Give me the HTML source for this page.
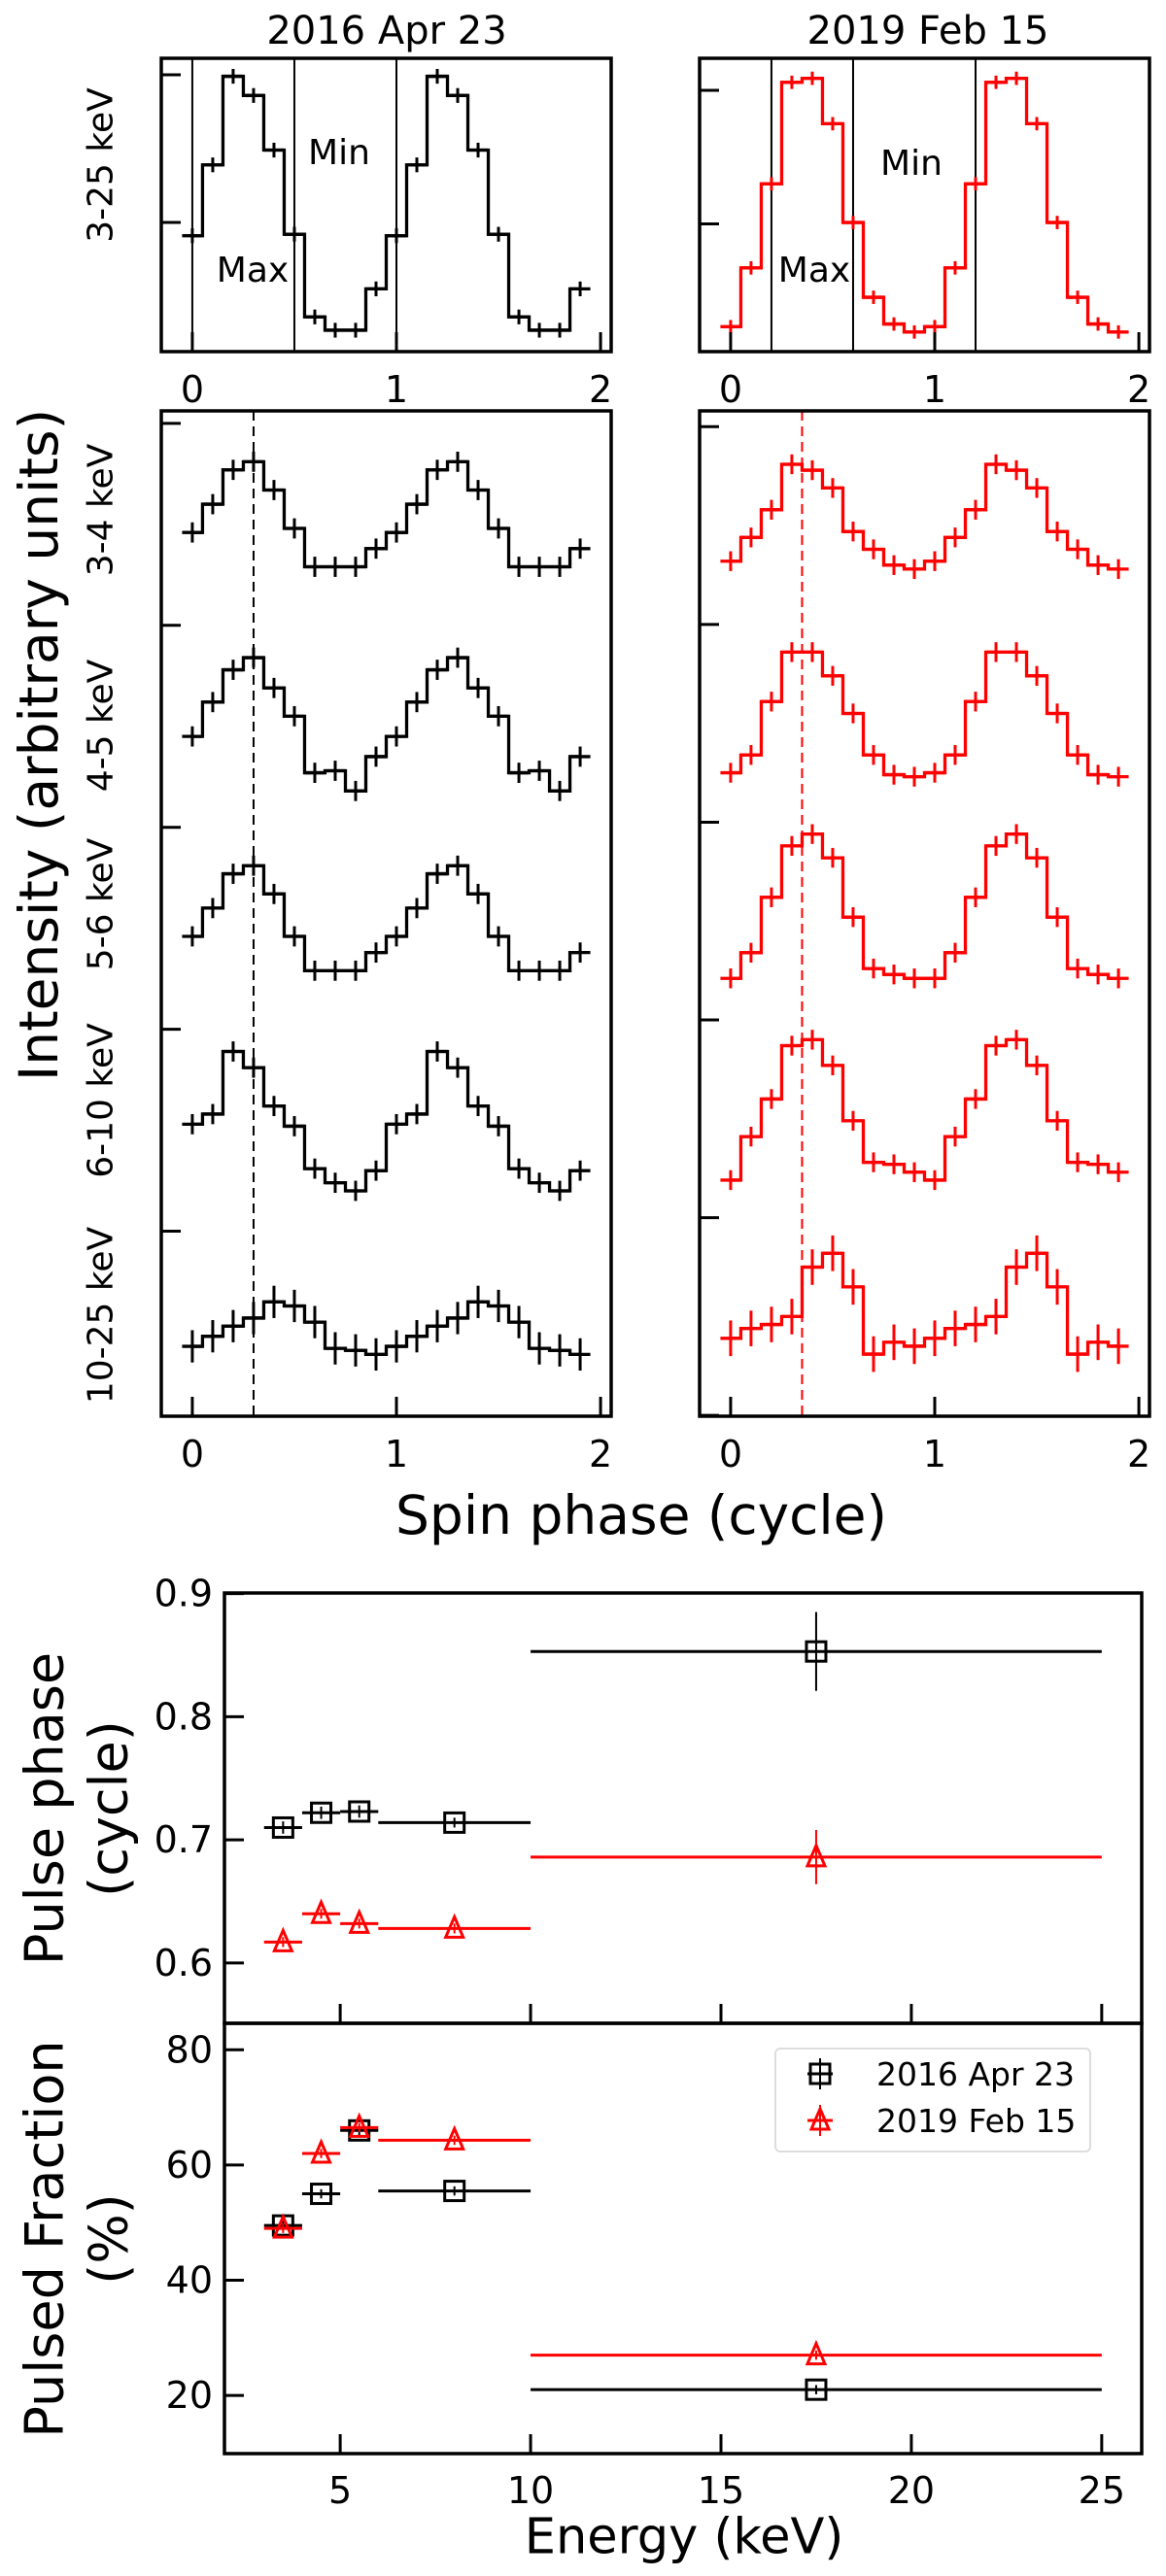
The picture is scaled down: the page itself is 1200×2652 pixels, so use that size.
<!DOCTYPE html>
<html><head><meta charset="utf-8"><style>
html,body{margin:0;padding:0;background:#fff}
svg{display:block;font-family:"DejaVu Sans","Liberation Sans",sans-serif}
</style></head><body>
<svg id="fig" xmlns="http://www.w3.org/2000/svg" width="1200" height="2652" viewBox="0 0 1200 2652">
<rect width="1200" height="2652" fill="#fff"/>
<g id="layer"></g>
</svg>
<script>
// ---------- data ----------
const phases = [0,0.1,0.2,0.3,0.4,0.5,0.6,0.7,0.8,0.9,1.0,1.1,1.2,1.3,1.4,1.5,1.6,1.7,1.8,1.9];
const bandNames = ["3-4 keV","4-5 keV","5-6 keV","6-10 keV","10-25 keV"];
const bandOffsets = [4,3,2,1,0];
const topL = [0.91,1.39,1.99,1.86,1.49,0.92,0.36,0.27,0.27,0.55,0.91,1.39,1.99,1.86,1.49,0.92,0.36,0.27,0.27,0.55];
const topR = [0.23,0.67,1.30,2.06,2.09,1.75,1.01,0.45,0.25,0.19,0.23,0.67,1.30,2.06,2.09,1.75,1.01,0.45,0.25,0.19];
const L34 = [0.46,0.60,0.77,0.81,0.67,0.48,0.29,0.29,0.29,0.38,0.46,0.60,0.77,0.81,0.67,0.48,0.29,0.29,0.29,0.38];
const L45 = [0.45,0.62,0.78,0.84,0.69,0.55,0.27,0.28,0.18,0.35,0.45,0.62,0.78,0.84,0.69,0.55,0.27,0.28,0.18,0.35];
const L56 = [0.46,0.60,0.77,0.81,0.67,0.46,0.29,0.29,0.29,0.38,0.46,0.60,0.77,0.81,0.67,0.46,0.29,0.29,0.29,0.38];
const L610 = [0.53,0.58,0.89,0.81,0.62,0.52,0.31,0.24,0.20,0.30,0.53,0.58,0.89,0.81,0.62,0.52,0.31,0.24,0.20,0.30];
const L1025 = [0.43,0.48,0.53,0.57,0.65,0.63,0.55,0.42,0.41,0.39,0.43,0.48,0.53,0.57,0.65,0.63,0.55,0.42,0.41,0.39];
const R34 = [0.32,0.44,0.58,0.81,0.78,0.69,0.47,0.38,0.30,0.28,0.32,0.44,0.58,0.81,0.78,0.69,0.47,0.38,0.30,0.28];
const R45 = [0.25,0.34,0.61,0.86,0.86,0.74,0.55,0.34,0.24,0.23,0.25,0.34,0.61,0.86,0.86,0.74,0.55,0.34,0.24,0.23];
const R56 = [0.21,0.34,0.62,0.88,0.94,0.82,0.52,0.26,0.23,0.21,0.21,0.34,0.62,0.88,0.94,0.82,0.52,0.26,0.23,0.21];
const R610 = [0.19,0.41,0.60,0.87,0.90,0.77,0.49,0.28,0.27,0.23,0.19,0.41,0.60,0.87,0.90,0.77,0.49,0.28,0.27,0.23];
const R1025 = [0.39,0.44,0.46,0.50,0.75,0.82,0.65,0.31,0.37,0.35,0.39,0.44,0.46,0.50,0.75,0.82,0.65,0.31,0.37,0.35];
const bandErrL = [0.05,0.05,0.05,0.05,0.08];
const bandErrR = [0.05,0.05,0.05,0.05,0.09];
const topErr = [0.05,0.05];
const markerPhaseL = [0,0.5,1.0];
const markerPhaseR = [0.2,0.6,1.2];
const refPhase = [0.3,0.35];
const eCenters = [3.5,4.5,5.5,8,17.5];
const eHalfWidth = [0.5,0.5,0.5,2,7.5];
const phase2016 = [0.710,0.722,0.723,0.714,0.853];
const phase2016Err = [0.005,0.005,0.005,0.004,0.032];
const phase2019 = [0.617,0.640,0.632,0.628,0.686];
const phase2019Err = [0.004,0.004,0.004,0.004,0.022];
const pf2016 = [49.5,55.0,66.0,55.5,21.0];
const pf2019 = [49.0,62.0,66.5,64.3,27.0];
const phaseTicks = [0.6,0.7,0.8,0.9];
const pfTicks = [20,40,60,80];
const energyTicks = [5,10,15,20,25];
const spinTicks = [0,1,2];

// ---------- helpers ----------
const NS="http://www.w3.org/2000/svg";
const layer=document.getElementById('layer');
function mk(tag,attrs,parent){const e=document.createElementNS(NS,tag);for(const k in attrs)e.setAttribute(k,attrs[k]);(parent||layer).appendChild(e);return e;}
function txt(s,attrs,parent){const e=mk('text',attrs,parent);e.textContent=s;return e;}
function scale(d0,d1,r0,r1){return v=>r0+(v-d0)/(d1-d0)*(r1-r0);}
const TICKFS=38;

function frame(p,name){
  const r=mk('rect',{x:p.x0,y:p.y0,width:p.x1-p.x0,height:p.y1-p.y0,fill:'none',stroke:'#000','stroke-width':3.5});
  
  
}
function xTicks(p,ticks,sx,labelY,fs,name){
  const g=mk('g',{});
  
  
  ticks.forEach(t=>{
    const x=sx(t);
    mk('line',{x1:x,x2:x,y1:p.y1,y2:p.y1-20,stroke:'#000','stroke-width':3},g);
    if(labelY!==null){const l=txt(String(t),{x:x,y:labelY,'font-size':fs,'text-anchor':'middle'},g);
      
      }
  });
}
function yTicks(p,ticks,sy,labels,name){
  const g=mk('g',{});
  
  
  ticks.forEach(t=>{
    const y=sy(t);
    mk('line',{x1:p.x0,x2:p.x0+20,y1:y,y2:y,stroke:'#000','stroke-width':3},g);
    if(labels){const l=txt(String(t),{x:p.x0-12,y:y+13,'font-size':TICKFS,'text-anchor':'end'},g);
      
      }
  });
}
function profile(vals,off,err,sx,sy,color,name){
  const g=mk('g',{});
  
  
  let d='';
  for(let i=0;i<phases.length;i++){
    const x=sx(phases[i]),y=sy(vals[i]+off);
    if(i===0)d+='M'+x+','+y;
    else{const xm=sx((phases[i-1]+phases[i])/2);d+=' L'+xm+','+sy(vals[i-1]+off)+' L'+xm+','+y+' L'+x+','+y;}
  }
  mk('path',{d:d,fill:'none',stroke:color,'stroke-width':3.3,'stroke-linejoin':'miter'},g);
  for(let i=0;i<phases.length;i++){
    const x=sx(phases[i]),y=sy(vals[i]+off);
    mk('line',{x1:sx(phases[i]-0.05),x2:sx(phases[i]+0.05),y1:y,y2:y,stroke:color,'stroke-width':3.3},g);
    mk('line',{x1:x,x2:x,y1:sy(vals[i]+off-err),y2:sy(vals[i]+off+err),stroke:color,'stroke-width':3},g);
  }
}
function label(s,x,y,fs,rot,name){
  const a={x:x,y:y,'font-size':fs,'text-anchor':'middle','dominant-baseline':'central'};
  if(rot)a.transform='rotate(-90 '+x+' '+y+')';
  const e=txt(s,a);
  
  
}

// ---------- top panels ----------
const tL={x0:166,x1:629,y0:60,y1:362};
const tR={x0:720,x1:1183,y0:60,y1:362};
const sxTL=scale(-0.152,2.052,tL.x0,tL.x1), syTL=scale(0.125,2.112,tL.y1,tL.y0);
const sxTR=scale(-0.152,2.052,tR.x0,tR.x1), syTR=scale(0.043,2.24,tR.y1,tR.y0);
markerPhaseL.forEach(p=>{const l=mk('line',{x1:sxTL(p),x2:sxTL(p),y1:tL.y0,y2:tL.y1,stroke:'#000','stroke-width':2});
  
  });
markerPhaseR.forEach(p=>{const l=mk('line',{x1:sxTR(p),x2:sxTR(p),y1:tR.y0,y2:tR.y1,stroke:'#000','stroke-width':2});
  
  });
profile(topL,0,topErr[0],sxTL,syTL,'#000','profile-2016-3-25kev');
profile(topR,0,topErr[1],sxTR,syTR,'#ff0000','profile-2019-3-25kev');
frame(tL,'top-left-axes');frame(tR,'top-right-axes');
xTicks(tL,spinTicks,sxTL,414,TICKFS,'top-left-x-ticks');
xTicks(tR,spinTicks,sxTR,414,TICKFS,'top-right-x-ticks');
yTicks(tL,[1,2],syTL,false,'top-left-y-ticks');
yTicks(tR,[1,2],syTR,false,'top-right-y-ticks');
label('2016 Apr 23',398,32,40,false,'title-2016');
label('2019 Feb 15',955,32,40,false,'title-2019');
txt('Max',{x:260,y:290,'font-size':36,'text-anchor':'middle'});
txt('Min',{x:349,y:169,'font-size':36,'text-anchor':'middle'});
txt('Max',{x:838,y:290,'font-size':36,'text-anchor':'middle'});
txt('Min',{x:938,y:180,'font-size':36,'text-anchor':'middle'});
label('3-25 keV',104,170,36,true,'band-label-3-25');

// ---------- stacked panels ----------
const sL={x0:166,x1:629,y0:423,y1:1458};
const sR={x0:720,x1:1183,y0:423,y1:1458};
const sxSL=scale(-0.152,2.052,sL.x0,sL.x1), sySL=scale(0.084,5.062,sL.y1,sL.y0);
const sxSR=scale(-0.152,2.052,sR.x0,sR.x1), sySR=scale(-0.004,5.08,sR.y1,sR.y0);
const seriesL=[L34,L45,L56,L610,L1025], seriesR=[R34,R45,R56,R610,R1025];
seriesL.forEach((s,i)=>profile(s,bandOffsets[i],bandErrL[i],sxSL,sySL,'#000','profile-2016-'+bandNames[i].replace(' ','-')));
seriesR.forEach((s,i)=>profile(s,bandOffsets[i],bandErrR[i],sxSR,sySR,'#ff0000','profile-2019-'+bandNames[i].replace(' ','-')));
let dl=mk('line',{x1:sxSL(refPhase[0]),x2:sxSL(refPhase[0]),y1:sL.y0,y2:sL.y1,stroke:'#000','stroke-width':2,'stroke-dasharray':'10,6'});


dl=mk('line',{x1:sxSR(refPhase[1]),x2:sxSR(refPhase[1]),y1:sR.y0,y2:sR.y1,stroke:'#ff0000','stroke-width':2,'stroke-dasharray':'10,6'});


frame(sL,'stack-left-axes');frame(sR,'stack-right-axes');
xTicks(sL,spinTicks,sxSL,1510,TICKFS,'stack-left-x-ticks');
xTicks(sR,spinTicks,sxSR,1510,TICKFS,'stack-right-x-ticks');
yTicks(sL,[1,2,3,4,5],sySL,false,'stack-left-y-ticks');
yTicks(sR,[0,1,2,3,4,5],sySR,false,'stack-right-y-ticks');
const bandLabelY=[525,747,931,1133,1354];
bandNames.forEach((b,i)=>label(b,104,bandLabelY[i],36,true,'band-label-'+b.replace(' ','-')));
label('Intensity (arbitrary units)',40,767,55,true,'y-axis-title-intensity');
label('Spin phase (cycle)',660,1560,55,false,'x-axis-title-spin-phase');

// ---------- bottom panels ----------
const bP={x0:231,x1:1175,y0:1640,y1:2083};
const bF={x0:231,x1:1175,y0:2083,y1:2526};
const sxE=scale(1.96,26.05,bP.x0,bP.x1);
const syP=scale(0.551,0.9005,bP.y1,bP.y0);
const syF=scale(9.9,84.6,bF.y1,bF.y0);
function square(x,y,c,g){mk('rect',{x:x-10,y:y-10,width:20,height:20,fill:'none',stroke:c,'stroke-width':3},g);}
function tri(x,y,c,g){mk('path',{d:'M'+x+','+(y-12)+' L'+(x+9)+','+(y+9)+' L'+(x-9)+','+(y+9)+' Z',fill:'none',stroke:c,'stroke-width':3},g);}
function points(vals,errs,sy,c,shape,name){
  const g=mk('g',{});
  
  
  vals.forEach((v,i)=>{
    const x=sxE(eCenters[i]),y=sy(v);
    mk('line',{x1:sxE(eCenters[i]-eHalfWidth[i]),x2:sxE(eCenters[i]+eHalfWidth[i]),y1:y,y2:y,stroke:c,'stroke-width':3},g);
    const e=errs?errs[i]:0.8;
    mk('line',{x1:x,x2:x,y1:sy(v-e),y2:sy(v+e),stroke:c,'stroke-width':2},g);
    shape(x,y,c,g);
  });
}
points(phase2016,phase2016Err,syP,'#000',square,'pulse-phase-2016');
points(phase2019,phase2019Err,syP,'#ff0000',tri,'pulse-phase-2019');
points(pf2016,null,syF,'#000',square,'pulsed-fraction-2016');
points(pf2019,null,syF,'#ff0000',tri,'pulsed-fraction-2019');
frame(bP,'pulse-phase-axes');frame(bF,'pulsed-fraction-axes');
xTicks(bP,energyTicks,sxE,null,TICKFS,'pulse-phase-x-ticks');
xTicks(bF,energyTicks,sxE,2577,TICKFS,'energy-x-ticks');
yTicks(bP,phaseTicks,syP,true,'pulse-phase-y-ticks');
yTicks(bF,pfTicks,syF,true,'pulsed-fraction-y-ticks');
label('Pulse phase',46,1862,54,true,'y-axis-title-pulse-phase');
label('(cycle)',112,1862,54,true,'y-axis-title-pulse-phase-unit');
label('Pulsed Fraction',46,2305,54,true,'y-axis-title-pulsed-fraction');
label('(%)',112,2305,54,true,'y-axis-title-pulsed-fraction-unit');
label('Energy (keV)',704,2612,51,false,'x-axis-title-energy');
// legend
const lg=mk('g',{});


mk('rect',{x:798,y:2109,width:324,height:106,rx:5,fill:'#fff',stroke:'#ddd','stroke-width':2},lg);
mk('line',{x1:831,x2:857,y1:2135,y2:2135,stroke:'#000','stroke-width':3},lg);
mk('line',{x1:844,x2:844,y1:2119,y2:2151,stroke:'#000','stroke-width':2},lg);
square(844,2135,'#000',lg);
mk('line',{x1:831,x2:857,y1:2183,y2:2183,stroke:'#ff0000','stroke-width':3},lg);
mk('line',{x1:844,x2:844,y1:2167,y2:2199,stroke:'#ff0000','stroke-width':2},lg);
tri(844,2183,'#ff0000',lg);
let le=txt('2016 Apr 23',{x:902,y:2147,'font-size':33},lg);


le=txt('2019 Feb 15',{x:902,y:2195,'font-size':33},lg);


</script>
</body></html>
